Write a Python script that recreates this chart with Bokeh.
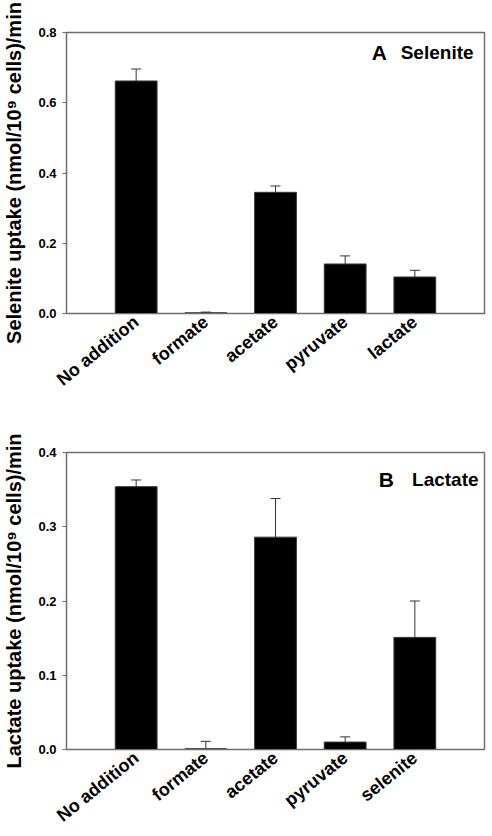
from bokeh.plotting import figure
from bokeh.models import (Range1d, FixedTicker, NumeralTickFormatter, Whisker,
                          TeeHead, ColumnDataSource, Label)
from bokeh.layouts import column
from bokeh.embed import file_html
from bokeh.resources import INLINE

# ---- data ----
cats_a = ["No addition", "formate", "acetate", "pyruvate", "lactate"]
vals_a = [0.662, 0.002, 0.345, 0.141, 0.104]
errs_a = [0.034, 0.002, 0.018, 0.023, 0.019]
yticks_a = [0.0, 0.2, 0.4, 0.6, 0.8]
ymax_a = 0.8
ylabel_a = "Selenite uptake (nmol/10\u2079 cells)/min"

cats_b = ["No addition", "formate", "acetate", "pyruvate", "selenite"]
vals_b = [0.354, 0.001, 0.286, 0.010, 0.151]
errs_b = [0.009, 0.010, 0.052, 0.007, 0.049]
yticks_b = [0.0, 0.1, 0.2, 0.3, 0.4]
ymax_b = 0.4
ylabel_b = "Lactate uptake (nmol/10\u2079 cells)/min"

FONT = "Liberation Sans"
GRAY = "#6e6e6e"


def make(cats, vals, errs, yticks, ymax, ylabel, letter, name,
         width, height, btop, bbottom, bright, letter_x, name_x, text_y):
    xs = list(range(len(cats)))
    p = figure(width=width, height=height, output_backend="svg",
               toolbar_location=None, x_range=Range1d(-1, len(cats)),
               y_range=Range1d(0, ymax),
               min_border_left=65, min_border_right=bright,
               min_border_top=btop, min_border_bottom=bbottom)
    p.background_fill_color = "white"
    p.border_fill_color = "white"
    p.outline_line_color = GRAY
    p.outline_line_width = 1.5
    p.xgrid.visible = False
    p.ygrid.visible = False

    src = ColumnDataSource(dict(x=xs, top=vals,
                                upper=[v + e for v, e in zip(vals, errs)]))
    p.vbar(x="x", top="top", bottom=0, width=0.6, source=src,
           fill_color="black", line_color="#3a3a3a", line_width=1)
    w = Whisker(base="x", lower="top", upper="upper", source=src,
                dimension="height", line_color="#333333", line_width=1,
                upper_head=TeeHead(size=10, line_color="#333333", line_width=1),
                lower_head=None, level="overlay")
    p.add_layout(w)

    ya = p.yaxis[0]
    ya.ticker = FixedTicker(ticks=yticks)
    ya.formatter = NumeralTickFormatter(format="0.0")
    ya.major_tick_out = 4
    ya.major_tick_in = 0
    ya.minor_tick_line_color = None
    ya.axis_line_color = GRAY
    ya.major_tick_line_color = GRAY
    ya.major_label_text_font = FONT
    ya.major_label_text_font_style = "bold"
    ya.major_label_text_font_size = "13px"
    ya.major_label_text_color = "black"
    ya.major_label_standoff = 6
    ya.axis_label = ylabel
    ya.axis_label_text_font = FONT
    ya.axis_label_text_font_style = "bold"
    ya.axis_label_text_font_size = "20px"
    ya.axis_label_text_color = "black"
    ya.axis_label_standoff = 10

    xa = p.xaxis[0]
    xa.ticker = FixedTicker(ticks=xs)
    xa.major_label_overrides = {i: c for i, c in zip(xs, cats)}
    xa.major_tick_out = 0
    xa.major_tick_in = 0
    xa.minor_tick_line_color = None
    xa.axis_line_color = GRAY
    xa.major_label_orientation = 0.68
    xa.major_label_text_font = FONT
    xa.major_label_text_font_style = "bold"
    xa.major_label_text_font_size = "18px"
    xa.major_label_text_color = "black"
    xa.major_label_standoff = 6

    p.add_layout(Label(x=letter_x, y=text_y, text=letter, text_align="right",
                       text_baseline="alphabetic", text_font=FONT,
                       text_font_style="bold", text_font_size="21px",
                       text_color="black"))
    p.add_layout(Label(x=name_x, y=text_y, text=name, text_align="right",
                       text_baseline="alphabetic", text_font=FONT,
                       text_font_style="bold", text_font_size="19px",
                       text_color="black"))
    return p


p1 = make(cats_a, vals_a, errs_a, yticks_a, ymax_a, ylabel_a, "A", "Selenite",
          492, 400, 32, 74, 8, 3.6, 4.843, 0.744)
p2 = make(cats_b, vals_b, errs_b, yticks_b, ymax_b, ylabel_b, "B", "Lactate",
          492, 436, 52, 85, 1, 3.7, 4.915, 0.364)

layout = column(p1, p2, spacing=0)
open("out.html", "w").write(file_html(layout, INLINE))
